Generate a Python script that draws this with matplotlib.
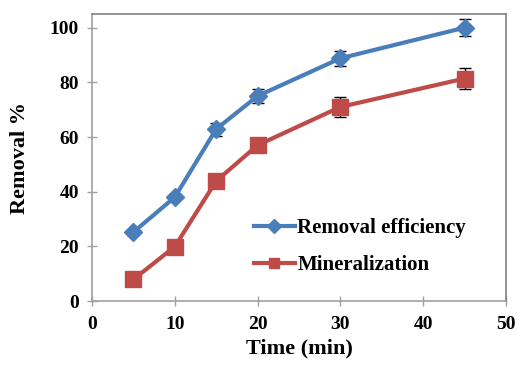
import matplotlib
matplotlib.use("Agg")
import matplotlib.pyplot as plt

# ================= DATA =================
time_min = [5, 10, 15, 20, 30, 45]
removal = [25.2, 38.0, 62.9, 75.0, 88.8, 100.0]
removal_err = [1.0, 1.0, 2.4, 2.5, 2.7, 3.0]
mineral = [7.9, 19.9, 43.9, 57.0, 71.0, 81.4]
mineral_err = [1.0, 1.0, 1.0, 2.0, 3.5, 4.0]
x_ticks = [0, 10, 20, 30, 40, 50]
y_ticks = [0, 20, 40, 60, 80, 100]
# ========================================

BLUE = "#4A7EBB"
RED = "#BE4B48"
AXIS_GREY = "#A0A0A0"

plt.rcParams["font.family"] = ["Liberation Serif", "DejaVu Serif"]
plt.rcParams["font.weight"] = "bold"

fig = plt.figure(figsize=(5.17, 3.67), dpi=100)
ax = fig.add_axes([92 / 517, 1 - 301 / 367, (506 - 92) / 517, (301 - 14) / 367])

ax.errorbar(time_min, removal, yerr=removal_err, color=BLUE, lw=3,
            marker="D", ms=9, mec=BLUE, ecolor="black", elinewidth=1,
            capsize=4, capthick=1, label="Removal efficiency", zorder=3)
ax.errorbar(time_min, mineral, yerr=mineral_err, color=RED, lw=3,
            marker="s", ms=11, mec=RED, ecolor="black", elinewidth=1,
            capsize=4, capthick=1, label="Mineralization", zorder=3)

ax.set_xlim(0, 50)
ax.set_ylim(0, 105)
ax.set_xticks(x_ticks)
ax.set_yticks(y_ticks)
ax.tick_params(direction="inout", length=7, width=1, color=AXIS_GREY,
               labelsize=14)
ax.tick_params(axis="x", pad=7)
ax.tick_params(axis="y", pad=6)
for lbl in ax.get_xticklabels() + ax.get_yticklabels():
    lbl.set_fontweight("bold")

for side in ["left", "bottom"]:
    ax.spines[side].set_color(AXIS_GREY)
for side in ["top", "right"]:
    ax.spines[side].set_color("#808080")
for spine in ax.spines.values():
    spine.set_linewidth(1.2)

ax.set_xlabel("Time (min)", fontsize=16, fontweight="bold", labelpad=4)
ax.set_ylabel("Removal %", fontsize=16, fontweight="bold", labelpad=14)

handles, labels = ax.get_legend_handles_labels()
handles = [h[0] for h in handles]
leg = ax.legend(handles, labels, loc="lower left",
                bbox_to_anchor=(0.345, 0.025), frameon=False,
                prop={"size": 15, "weight": "bold"},
                handlelength=2.0, handletextpad=0.1, labelspacing=0.8)
for h in leg.legend_handles:
    h.set_markersize(7)

fig.savefig("out.png", dpi=100)
